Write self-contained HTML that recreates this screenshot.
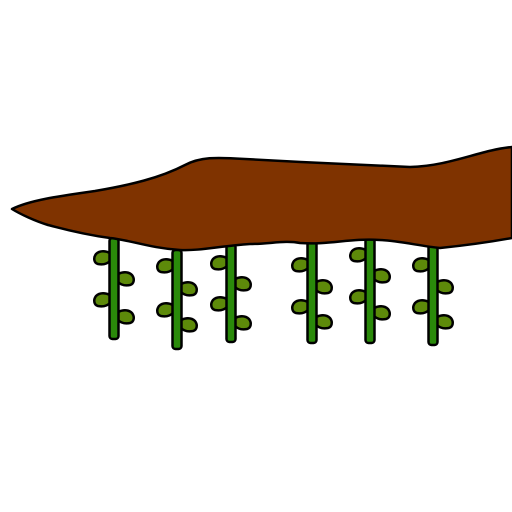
<!DOCTYPE html>
<html><head><meta charset="utf-8"><style>html,body{margin:0;padding:0;background:#fff}svg{display:block}</style></head>
<body>
<svg width="512" height="512" viewBox="0 0 512 512">
<g id="stems"></g>
<path d="M12,209 C30,200 60,196 95,191 C130,185 160,178 185,165 C200,157 215,157 245,159 C300,162 360,165 410,167 C450,166 480,150 512,147 L512,238 C490,242 460,246 440,248 C420,246 400,241 380,240 C350,238 330,245 300,243 C285,240 270,244 250,244 C220,246 200,251 180,250 C150,248 130,240 110,238 C80,234 60,228 48,225 C35,221 20,214 12,209 Z" fill="#7f3300" stroke="#000" stroke-width="2.5" stroke-linejoin="round"/>
<script>
const stemX=[114,177,231,312,370,433];
const stemTop=[238,250,244,236,236,244];
const stemBottom=[339,349,342,343,343,345];
const leftLeaf1=[259,267,264,266,256,266];
const leftLeaf2=[301,311,305,308,298,308];
const rightLeaf1=[280,290,285,288,277,288];
const rightLeaf2=[318,326,324,323,314,323];
const g=document.getElementById('stems');
const NS='http://www.w3.org/2000/svg';
function leaf(x,y,dir,name){
  const p=document.createElementNS(NS,'path');
  
  
  const s=dir;
  p.setAttribute('d',`M${x},${y+2} L${x},${y-6} C${x-4*s},${y-8} ${x-10*s},${y-9} ${x-14*s},${y-5} C${x-17*s},${y-1} ${x-16*s},${y+4} ${x-12*s},${y+5} C${x-7*s},${y+6} ${x-3*s},${y+5} ${x},${y+2} Z`);
  p.setAttribute('fill','#5d8a0a');p.setAttribute('stroke','#000');p.setAttribute('stroke-width','2.5');p.setAttribute('stroke-linejoin','round');
  g.appendChild(p);
}
stemX.forEach((x,i)=>{
  leaf(x-4,leftLeaf1[i],1,'leaf');
  leaf(x-4,leftLeaf2[i],1,'leaf');
  leaf(x+4,rightLeaf1[i],-1,'leaf');
  leaf(x+4,rightLeaf2[i],-1,'leaf');
  const r=document.createElementNS(NS,'rect');
  
  
  r.setAttribute('x',x-4.5);r.setAttribute('y',stemTop[i]);r.setAttribute('width',9);r.setAttribute('height',stemBottom[i]-stemTop[i]);
  r.setAttribute('rx',3);r.setAttribute('fill','#2a8a0a');r.setAttribute('stroke','#000');r.setAttribute('stroke-width','2.5');
  g.appendChild(r);
});
</script>
</svg>
</body></html>
